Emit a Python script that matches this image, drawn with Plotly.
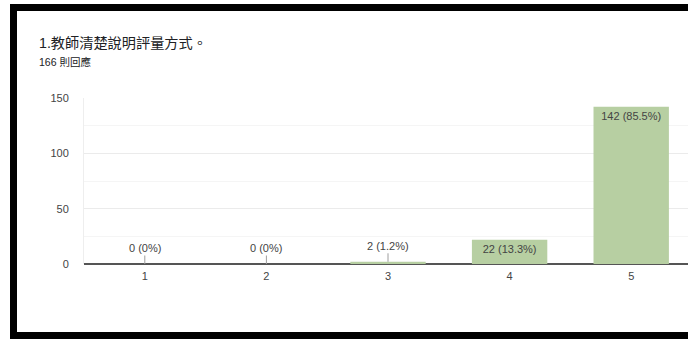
import plotly.graph_objects as go

# Survey responses for a single 1-5 rating question
title = "1.教師清楚說明評量方式。"
subtitle = "166 則回應"
ratings = [1, 2, 3, 4, 5]
counts = [0, 0, 2, 22, 142]
y_ticks = [0, 50, 100, 150]

total = sum(counts)
labels = [f"{c} ({round(c / total * 100, 1):g}%)" for c in counts]

W, H = 688, 339
ML, MR, MT, MB = 84, 0, 98, 75
PW, PH = W - ML - MR, H - MT - MB

BAR = "#b7cfa2"
TXT = "#444444"
FONT = "Liberation Sans, Arial, 'Noto Sans CJK TC', sans-serif"


def px(x):
    return (x - ML) / PW


def py(y):
    return (H - MB - y) / PH


fig = go.Figure()
fig.add_trace(go.Bar(
    x=ratings,
    y=counts,
    width=0.62,
    marker=dict(color=BAR, line=dict(width=0)),
    text=[lab if c >= 10 else "" for lab, c in zip(labels, counts)],
    textposition="inside",
    insidetextanchor="end",
    textangle=0,
    textfont=dict(color=TXT, size=11, family=FONT),
    hoverinfo="skip",
))

annotations = []
# Small bars get their label above with a short leader line
for r, c, lab in zip(ratings, counts, labels):
    if c < 10:
        annotations.append(dict(
            x=r, y=c, xref="x", yref="y", text=lab,
            showarrow=True, arrowhead=0, arrowwidth=1, arrowcolor="#9e9e9e",
            ax=0, ay=-16, standoff=0,
            font=dict(color=TXT, size=11, family=FONT),
        ))

annotations += [
    dict(x=px(37), y=py(42.5), xref="paper", yref="paper", text=title,
         showarrow=False, xanchor="left", yanchor="middle",
         font=dict(size=14.2, color="#202124", family=FONT)),
    dict(x=px(37), y=py(62), xref="paper", yref="paper", text=subtitle,
         showarrow=False, xanchor="left", yanchor="middle",
         font=dict(size=10.5, color="#202124", family=FONT)),
]

# Black frame around the card
frame = [
    (10, 4, 17, 339),
    (10, 4, 700, 11),
    (10, 332, 700, 339),
]
shapes = [
    dict(type="rect", xref="paper", yref="paper",
         x0=px(a), y0=py(b), x1=px(c), y1=py(d),
         fillcolor="black", line=dict(width=0), layer="above")
    for a, b, c, d in frame
]

fig.update_layout(
    width=W, height=H,
    margin=dict(l=ML, r=MR, t=MT, b=MB, pad=0),
    paper_bgcolor="white",
    plot_bgcolor="white",
    showlegend=False,
    bargap=0.38,
    annotations=annotations,
    shapes=shapes,
    font=dict(family=FONT, color=TXT, size=11),
    xaxis=dict(
        range=[0.5, 5.5 - 4 / 121.5],
        tickvals=ratings, ticktext=[str(r) for r in ratings],
        showgrid=False, zeroline=False,
        showline=False, ticks="", ticklabelstandoff=4,
        tickfont=dict(size=11, color=TXT),
        fixedrange=True,
    ),
    yaxis=dict(
        range=[0, 150],
        tickvals=y_ticks,
        showgrid=True, gridcolor="#ebebeb", gridwidth=1,
        minor=dict(dtick=25, showgrid=True, gridcolor="#f5f5f5", gridwidth=1),
        zeroline=True, zerolinecolor="#555555", zerolinewidth=1.5,
        showline=True, linecolor="#eeeeee", linewidth=1,
        ticks="", ticklabelstandoff=12,
        tickfont=dict(size=11, color=TXT),
        fixedrange=True,
    ),
)

fig.write_html("out.html")
